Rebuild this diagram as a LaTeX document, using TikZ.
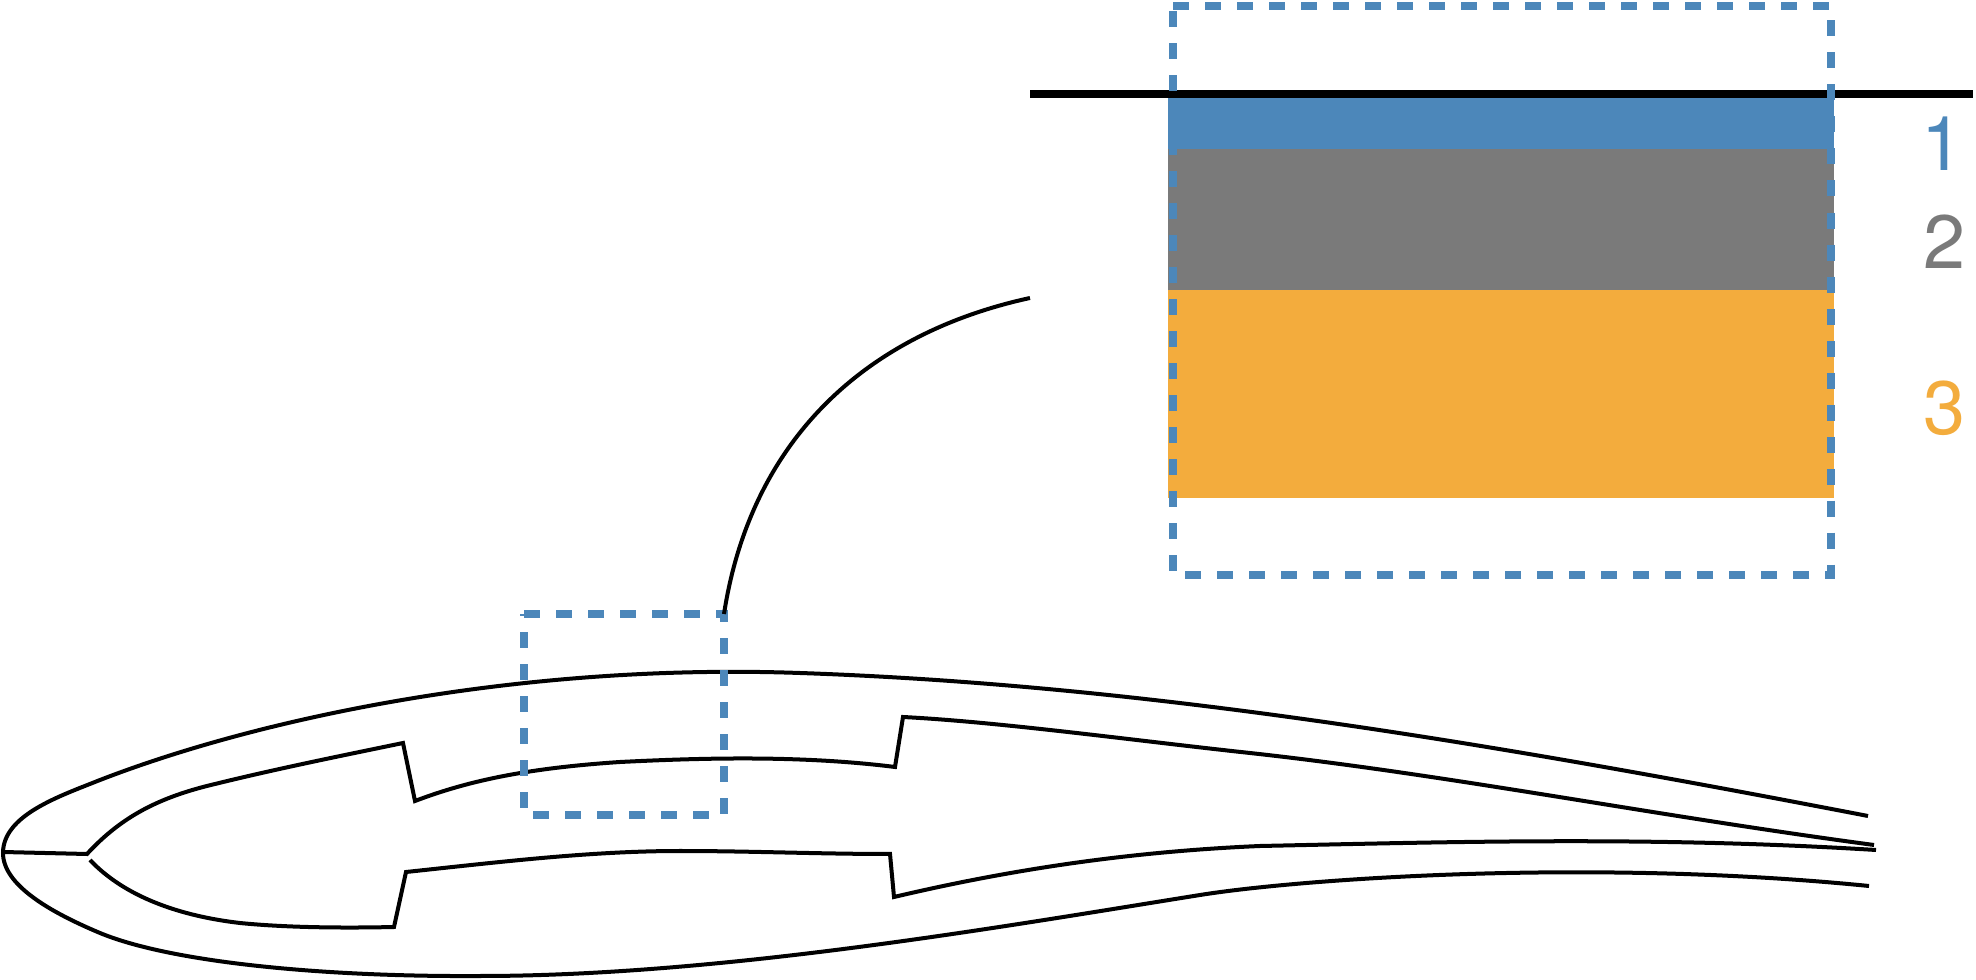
\documentclass[tikz,border=0pt]{standalone}
\usepackage{fontspec}
\setmainfont{TeX Gyre Heros}
\definecolor{bandblue}{HTML}{4C87BA}
\definecolor{bandgray}{HTML}{7A7A7A}
\definecolor{bandorange}{HTML}{F3AC3D}
\begin{document}
\begin{tikzpicture}[x=.01cm,y=-.01cm,
  skin/.style={draw=black,line width=.04cm,line join=miter},
  zoombox/.style={draw=bandblue,line width=.085cm,dash pattern=on .16cm off .16cm},
  layer/.style={font=\fontsize{21.5}{21.5}\selectfont,inner sep=0pt}]
\useasboundingbox (0,0) rectangle (1976,980);
% layers of the skin
\fill[bandblue] (1168,98) rectangle (1834,149);
\fill[bandgray] (1168,149) rectangle (1834,290);
\fill[bandorange] (1168,290) rectangle (1834,498);
\coordinate (surfL) at (1030,94);
\coordinate (surfR) at (1973,94);
\draw[black,line width=.085cm] (surfL)--(surfR);
\node[layer,text=bandblue] (one) at (1942,144) {1};
\node[layer,text=bandgray] (two) at (1944,242) {2};
\node[layer,text=bandorange] (three) at (1944,408) {3};
% section outline
\draw[skin] (1868,816) .. controls (1500,745) and (1150,685) .. (800,673)
  .. controls (520,663) and (260,718) .. (100,780) .. controls (60,796) and (3,815) .. (3,853)
  .. controls (3,885) and (50,912) .. (100,933) .. controls (170,962) and (320,977) .. (480,976)
  .. controls (720,976) and (1000,927) .. (1200,895) .. controls (1300,879) and (1590,858) .. (1869,886);
\draw[skin] (3,852)--(87,854) .. controls (122,816) and (160,797) .. (215,784)
  .. controls (280,768) and (350,754) .. (403,743) -- (415,801)
  .. controls (470,780) and (530,768) .. (620,762) .. controls (700,758) and (800,755) .. (895,767)
  -- (903,717) .. controls (1000,722) and (1130,740) .. (1250,753)
  .. controls (1450,775) and (1650,815) .. (1874,845);
\draw[skin] (90,860) .. controls (125,897) and (180,916) .. (240,923)
  .. controls (290,928) and (350,928) .. (394,927) -- (406,872)
  .. controls (500,862) and (590,851) .. (680,851) .. controls (750,851) and (820,854) .. (890,854)
  -- (894,897) .. controls (1000,872) and (1120,852) .. (1260,846)
  .. controls (1450,842) and (1650,836) .. (1876,850);
% dashed frames
\coordinate (bigNW) at (1173,6);
\coordinate (bigNE) at (1831,6);
\coordinate (bigSE) at (1831,575);
\coordinate (bigSW) at (1173,575);
\coordinate (smallNW) at (524,614);
\coordinate (smallNE) at (724,614);
\coordinate (smallSE) at (724,815);
\coordinate (smallSW) at (524,815);
\draw[zoombox] (bigNW)--(bigNE)--(bigSE)--(bigSW)--cycle;
\draw[zoombox] (smallNW)--(smallNE)--(smallSE)--(smallSW)--cycle;
% leader
\coordinate (leadEnd) at (1030,298);
\draw[black,line width=.04cm] (smallNE) .. controls (750,445) and (860,335) .. (leadEnd);
\end{tikzpicture}
\end{document}
